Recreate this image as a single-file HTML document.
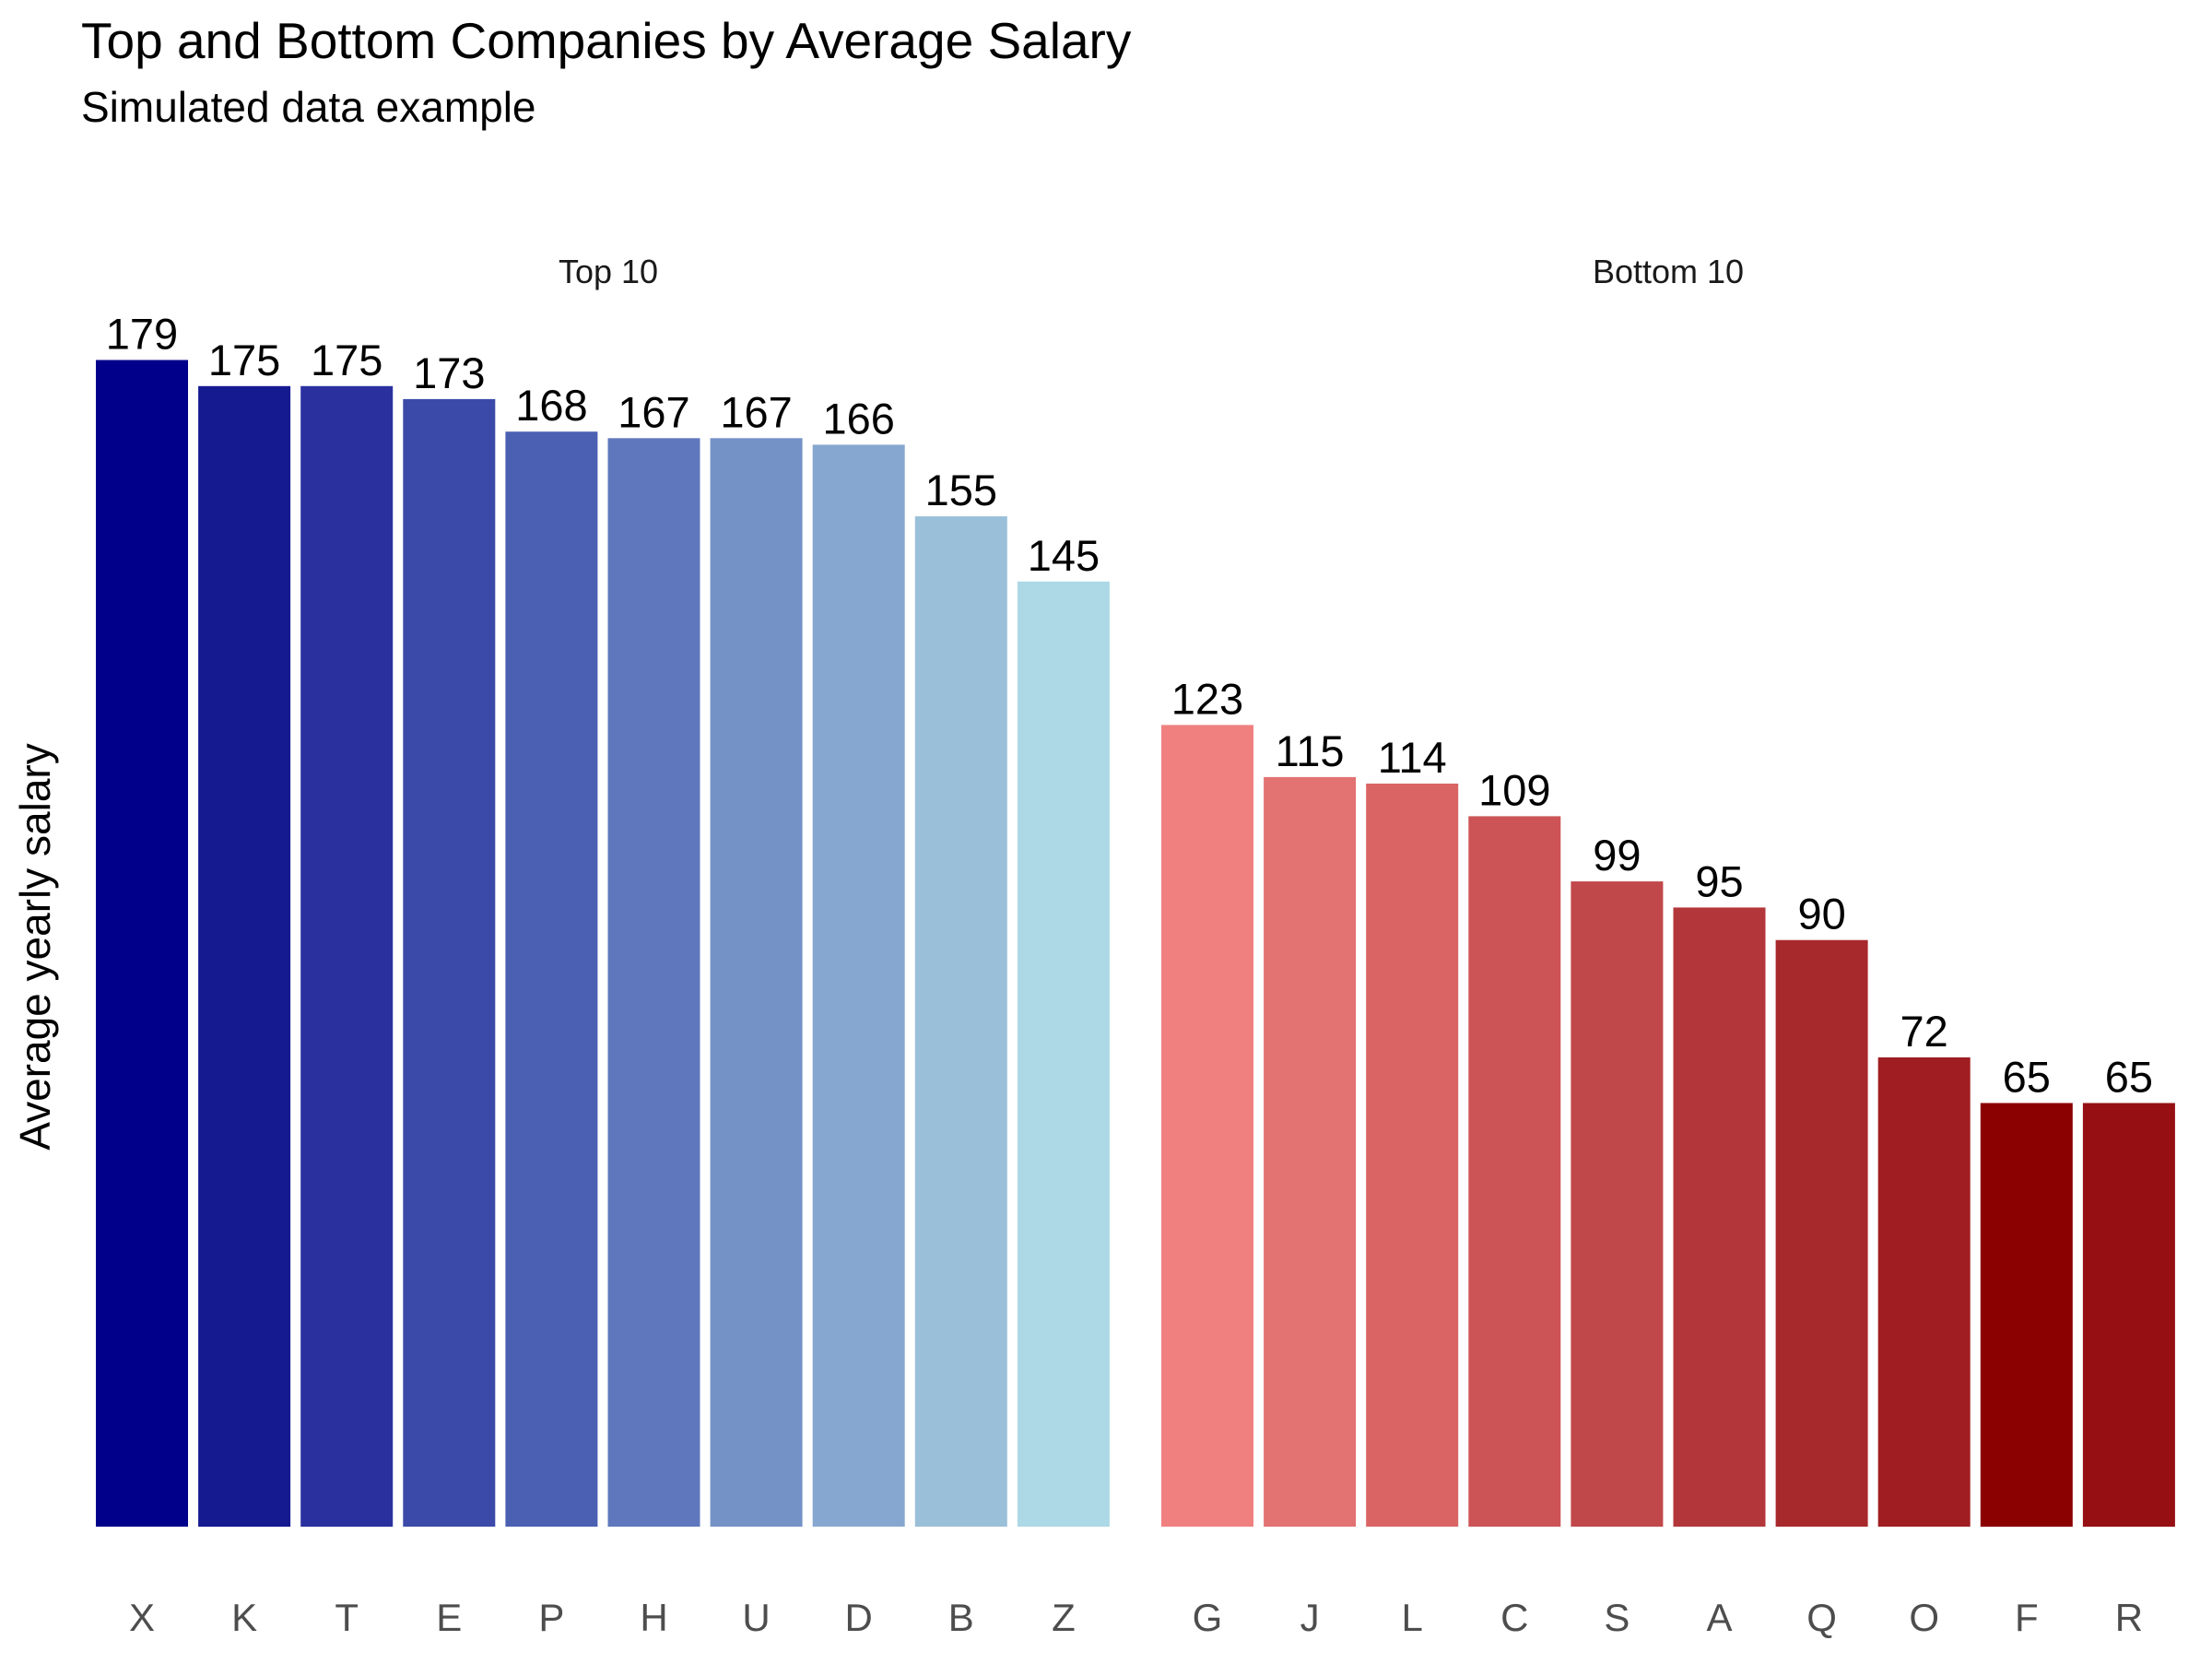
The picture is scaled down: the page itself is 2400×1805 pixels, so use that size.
<!DOCTYPE html>
<html><head><meta charset="utf-8"><style>html,body{margin:0;padding:0;background:#fff}</style></head>
<body>
<svg width="2400" height="1800" xmlns="http://www.w3.org/2000/svg" font-family="Liberation Sans, Arial, sans-serif">
<rect width="2400" height="1800" fill="#fff"/>
<text x="88" y="63" font-size="55" fill="#000">Top and Bottom Companies by Average Salary</text>
<text x="88" y="132" font-size="46" fill="#000">Simulated data example</text>
<text x="660" y="307" font-size="36" fill="#1a1a1a" text-anchor="middle">Top 10</text>
<text x="1810" y="307" font-size="36" fill="#1a1a1a" text-anchor="middle">Bottom 10</text>
<text transform="translate(54,1027) rotate(-90)" font-size="46" fill="#000" text-anchor="middle">Average yearly salary</text>
<g id="bars"></g>
</svg>
<script>
var top10=[["X",179,"#00008b"],["K",175,"#161a91"],["T",175,"#2a319f"],["E",173,"#3b4aa9"],["P",168,"#4b60b3"],["H",167,"#5f78bd"],["U",167,"#7492c6"],["D",166,"#86a7d0"],["B",155,"#9abfd9"],["Z",145,"#add8e6"]];
var bot10=[["G",123,"#f08080"],["J",115,"#e37272"],["L",114,"#da6464"],["C",109,"#cc5456"],["S",99,"#c1484a"],["A",95,"#b3373a"],["Q",90,"#a8292b"],["O",72,"#a01d21"],["F",65,"#8b0000"],["R",65,"#960f12"]];
var g=document.getElementById("bars"),B=1656,K=7.07,s="";
function draw(arr,x0){arr.forEach(function(d,i){var x=x0+i*111.1,h=d[1]*K,y=B-h,cx=x+50;
s+='<rect x="'+x.toFixed(1)+'" y="'+y.toFixed(1)+'" width="100" height="'+h.toFixed(1)+'" fill="'+d[2]+'"/>';
s+='<text x="'+cx.toFixed(1)+'" y="'+(y-12).toFixed(1)+'" font-size="47" text-anchor="middle" fill="#000">'+d[1]+'</text>';
s+='<text x="'+cx.toFixed(1)+'" y="1769" font-size="42" text-anchor="middle" fill="#4d4d4d">'+d[0]+'</text>';});}
draw(top10,104);draw(bot10,1260);
g.innerHTML=s;
</script>
</body></html>
